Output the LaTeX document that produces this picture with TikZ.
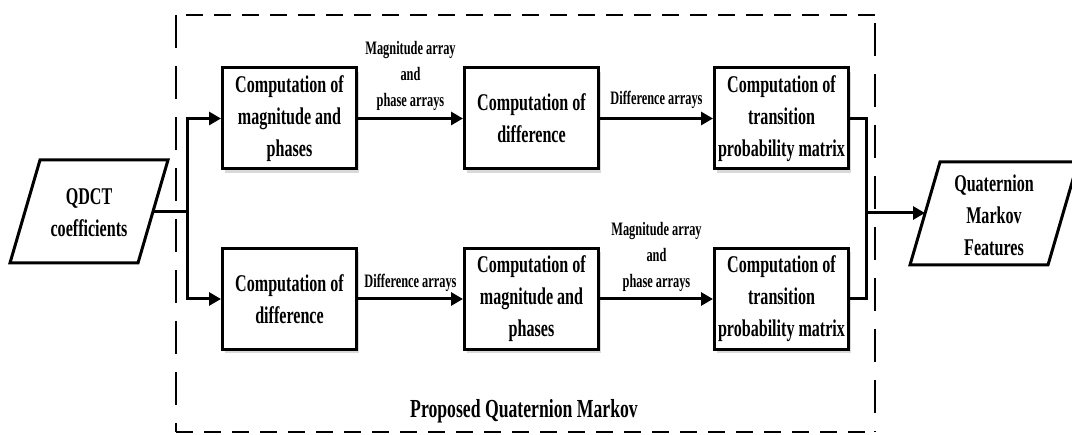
\documentclass[tikz,border=0pt]{standalone}
\usepackage{fontspec}
\setmainfont{Liberation Serif}
\newfontfamily\cndfam[FakeStretch=0.67]{Liberation Serif}
\newfontfamily\cndlfam[FakeStretch=0.65]{Liberation Serif}
\newfontfamily\cndtfam[FakeStretch=0.68]{Liberation Serif}
\usetikzlibrary{arrows.meta,shadows}
\newcommand\bxfont{\cndfam\bfseries\fontsize{24}{32}\selectfont}
\newcommand\lbfont{\cndlfam\bfseries\fontsize{19}{26}\selectfont}
\newcommand\ttlfont{\cndtfam\bfseries\fontsize{26}{30}\selectfont}
\begin{document}
\begin{tikzpicture}[x=1pt,y=-1pt,
  box/.style={draw, line width=3pt, fill=white, minimum width=134pt, minimum height=101pt,
    inner sep=0pt, align=center, font=\bxfont,
    drop shadow={shadow xshift=2pt, shadow yshift=-4pt, opacity=0.3}},
  txt/.style={align=center, font=\bxfont, inner sep=0pt},
  lbl/.style={font=\lbfont, align=center, inner sep=0pt},
  conn/.style={line width=3pt},
  arr/.style={conn, -{Triangle[length=12pt,width=13pt]}},
  frameh/.style={line width=2.5pt, dash pattern=on 17pt off 11pt},
  framev/.style={line width=2.5pt, dash pattern=on 33pt off 18pt},
  para/.style={line width=3pt, line join=miter}]
\useasboundingbox (0,0) rectangle (1072,435);

% dashed frame
\coordinate (fTL) at (176,15);
\coordinate (fTR) at (875,15);
\coordinate (fBL) at (176,432);
\coordinate (fBR) at (875,432);
\draw[frameh] (fTL) ++(10,0) -- (fTR);
\draw[frameh] (fBL) -- (fBR);
\draw[framev] (fTL) -- (fBL);
\draw[framev] (fTR) ++(0,8) -- (fBR);
\node[font=\ttlfont, inner sep=0pt] (title) at (524,411) {Proposed Quaternion Markov};

% input parallelogram
\draw[para] (40,160) -- (168,160) -- (138,263) -- (10,263) -- cycle;
\node[txt] (qdct) at (89,213) {QDCT\\coefficients};
\coordinate (inR) at (153,212);
\coordinate (jL) at (187,212);

% output parallelogram
\draw[para] (940,162) -- (1078,162) -- (1048,265) -- (910,265) -- cycle;
\node[txt] (qmf) at (994,215) {Quaternion\\Markov\\Features};
\coordinate (outL) at (925,213);
\coordinate (jR) at (866,213);

% boxes
\node[box] (b1) at (289.5,118.5) {Computation of\\magnitude and\\phases};
\node[box] (b2) at (531.5,118.5) {Computation of\\difference};
\node[box] (b3) at (781.5,118.5) {Computation of\\transition\\probability matrix};
\node[box] (b4) at (289.5,299) {Computation of\\difference};
\node[box] (b5) at (531.5,299) {Computation of\\magnitude and\\phases};
\node[box] (b6) at (781.5,299) {Computation of\\transition\\probability matrix};

% connectors
\draw[arr] (inR) -- (jL) |- (b1);
\draw[arr] (jL) |- (b4);
\draw[arr] (b1) -- node[lbl, above=6pt] (l1) {Magnitude array\\and\\phase arrays} (b2);
\draw[arr] (b2) -- node[lbl, above=8pt] (l2) {Difference arrays} (b3);
\draw[arr] (b4) -- node[lbl, above=6pt] (l3) {Difference arrays} (b5);
\draw[arr] (b5) -- node[lbl, above=6pt] (l4) {Magnitude array\\and\\phase arrays} (b6);
\draw[conn] (b3) -| (jR);
\draw[conn] (b6) -| (jR);
\draw[arr] (jR) -- (outL);
\end{tikzpicture}
\end{document}
